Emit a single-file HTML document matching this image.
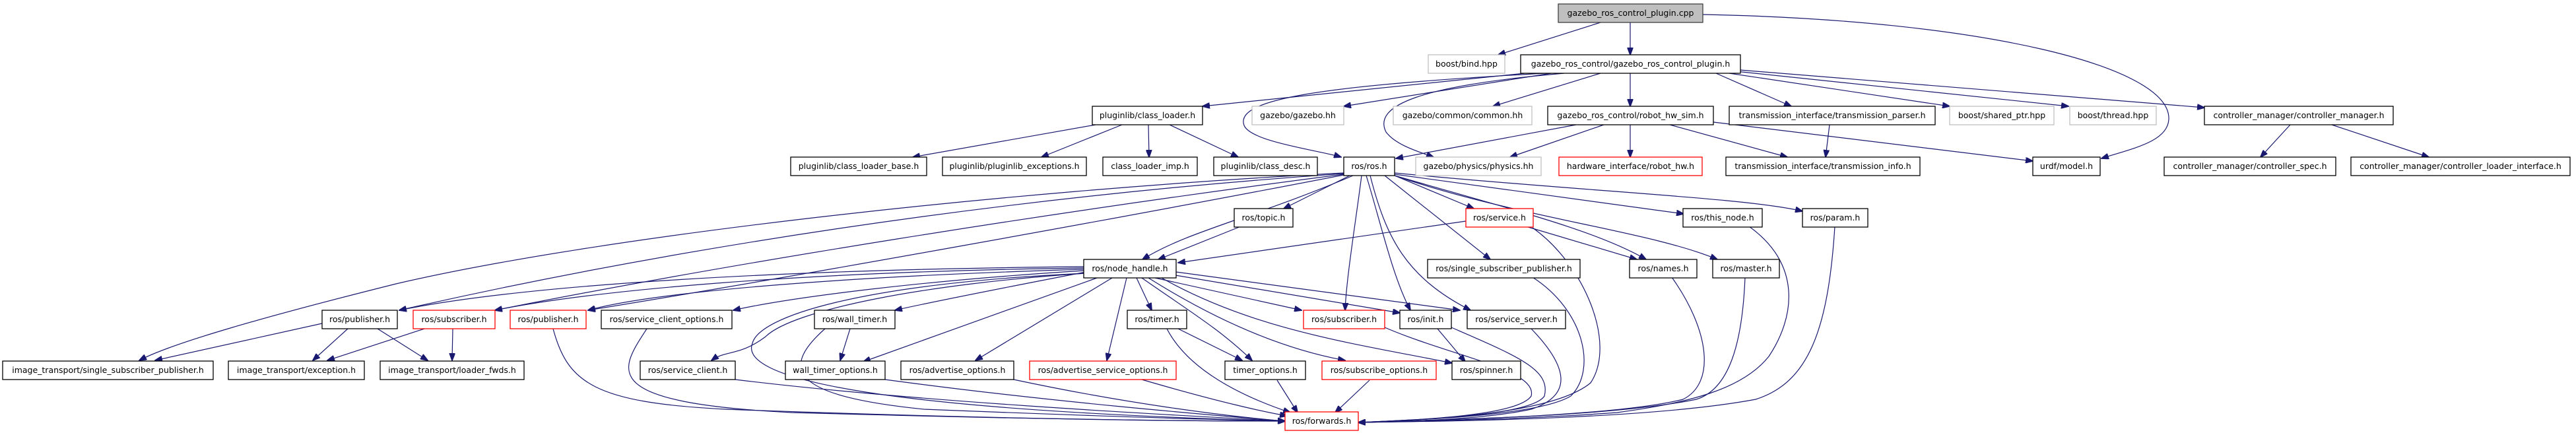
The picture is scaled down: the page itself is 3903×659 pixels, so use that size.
<!DOCTYPE html>
<html><head><meta charset="utf-8"><style>
html,body{margin:0;padding:0;background:#fff;}
svg{display:block;}
text{font-family:"DejaVu Sans","Liberation Sans",sans-serif;font-size:12.5px;fill:#000;text-anchor:middle;}
.e{fill:none;stroke:#191970;stroke-width:1.2;}
.n{fill:#fff;stroke:#000;stroke-width:1.3;}
.g{fill:#fff;stroke:#bfbfbf;stroke-width:1.3;}
.r{fill:#fff;stroke:#ff0000;stroke-width:1.3;}
</style></head><body>
<svg width="3903" height="659" viewBox="0 0 3903 659" xmlns="http://www.w3.org/2000/svg">
<defs><marker id="a" markerWidth="12" markerHeight="9" refX="11" refY="4.5" orient="auto" markerUnits="userSpaceOnUse"><path d="M0,0 L12,4.5 L0,9 z" fill="#191970" stroke="#191970"/></marker></defs>
<g class="e" marker-end="url(#a)">
<path d="M2425,34 L2270,83"/>
<path d="M2470,34 L2470,83"/>
<path d="M2580,22 C3000,30 3290,100 3286,181 C3284,215 3230,225 3184,240"/>
<path d="M2310,111 L1822,161"/>
<path d="M2350,111 L2036,161"/>
<path d="M2425,111 L2262,161"/>
<path d="M2470,111 L2470,161"/>
<path d="M2340,111 C2000,130 1870,150 1885,190 C1895,215 2000,228 2032,238"/>
<path d="M2370,111 C2150,130 2080,160 2100,200 C2115,220 2150,230 2172,238"/>
<path d="M2600,111 L2714,161"/>
<path d="M2620,111 L2954,161"/>
<path d="M2630,108 L3134,161"/>
<path d="M2636,106 L3340,163"/>
<path d="M1660,189 L1383,238"/>
<path d="M1700,189 L1578,238"/>
<path d="M1740,189 L1741,238"/>
<path d="M1772,189 L1876,238"/>
<path d="M2388,189 L2115,240"/>
<path d="M2430,189 L2288,238"/>
<path d="M2470,189 L2470,238"/>
<path d="M2530,189 L2708,238"/>
<path d="M2596,185 L3080,244"/>
<path d="M2772,189 L2766,238"/>
<path d="M3470,189 L3425,238"/>
<path d="M3533,189 L3680,238"/>
<path d="M2045,266 L1945,316"/>
<path d="M2050,266 C1900,330 1800,350 1731,393"/>
<path d="M2113,266 L2233,316"/>
<path d="M2113,264 L2551,324"/>
<path d="M2113,262 C2400,290 2650,300 2731,320"/>
<path d="M2098,266 L2258,393"/>
<path d="M2113,266 C2300,320 2420,350 2494,393"/>
<path d="M2113,266 C2300,330 2500,350 2602,393"/>
<path d="M2063,266 C2055,330 2040,420 2038,470"/>
<path d="M2070,266 C2090,330 2110,420 2137,470"/>
<path d="M2076,266 C2100,360 2130,420 2228,470"/>
<path d="M2036,265 C1700,330 1200,420 891,470"/>
<path d="M2036,264 C1600,320 1100,400 750,470"/>
<path d="M2036,263 C1500,300 1000,380 605,470"/>
<path d="M2036,262 C1500,290 900,360 600,430 C400,480 260,520 211,546"/>
<path d="M1880,343 L1755,393"/>
<path d="M2221,335 L1785,398"/>
<path d="M2312,343 L2480,393"/>
<path d="M1642,404 C1200,408 800,430 605,470"/>
<path d="M1642,406 C1200,412 900,440 750,470"/>
<path d="M1642,408 C1300,418 1000,440 891,470"/>
<path d="M1642,410 C1400,425 1200,450 1111,470"/>
<path d="M1645,412 C1500,440 1400,460 1356,470"/>
<path d="M1645,414 C1400,430 1200,470 1160,510 C1120,540 1100,530 1078,546"/>
<path d="M1662,421 L1308,548"/>
<path d="M1685,421 L1478,546"/>
<path d="M1707,421 L1677,546"/>
<path d="M1722,421 L1745,470"/>
<path d="M1730,421 C1800,470 1850,500 1897,546"/>
<path d="M1750,421 L1972,470"/>
<path d="M1775,416 L2121,474"/>
<path d="M1782,412 L2212,470"/>
<path d="M1740,421 C1850,490 1950,530 2038,546"/>
<path d="M1760,421 C1900,500 2050,520 2200,550"/>
<path d="M488,490 L235,546"/>
<path d="M527,498 L474,546"/>
<path d="M572,498 L648,546"/>
<path d="M643,498 L496,546"/>
<path d="M686,498 L685,546"/>
<path d="M1288,498 L1273,546"/>
<path d="M1785,498 L1882,546"/>
<path d="M2178,498 L2220,548"/>
<path d="M838,498 C860,580 900,610 1100,620 C1500,635 1800,638 1947,638"/>
<path d="M980,498 C940,560 900,610 1200,625 C1600,636 1800,638 1947,638"/>
<path d="M1645,414 C1300,430 1150,480 1140,520 C1120,570 1300,620 1947,638"/>
<path d="M1114,575 C1400,610 1800,630 1947,638"/>
<path d="M1250,498 C1180,560 1200,600 1400,620 C1700,632 1850,636 1947,638"/>
<path d="M1341,575 C1600,610 1850,630 1947,638"/>
<path d="M1536,575 C1700,610 1850,630 1947,638"/>
<path d="M1730,575 C1850,610 1920,625 1950,630"/>
<path d="M1768,498 C1800,560 1880,600 1955,625"/>
<path d="M1935,576 L1966,625"/>
<path d="M2075,576 L2023,625"/>
<path d="M2098,496 C2200,540 2330,560 2320,600 C2300,630 2150,636 2058,640"/>
<path d="M2199,496 C2300,540 2350,560 2340,600 C2320,630 2150,636 2058,640"/>
<path d="M2320,498 C2380,560 2380,600 2320,620 C2250,635 2150,638 2058,640"/>
<path d="M2322,345 C2400,400 2450,520 2410,580 C2350,630 2150,636 2058,640"/>
<path d="M2322,420 C2400,470 2420,560 2380,600 C2330,630 2150,636 2058,640"/>
<path d="M2533,420 C2590,500 2600,580 2550,605 C2450,630 2200,636 2058,640"/>
<path d="M2644,420 C2640,520 2620,590 2570,605 C2450,630 2200,636 2058,640"/>
<path d="M2650,343 C2730,400 2720,480 2680,540 C2640,590 2560,610 2450,625 C2300,636 2150,638 2058,640"/>
<path d="M2780,343 C2770,500 2740,580 2660,605 C2500,635 2200,638 2058,640"/>
</g>
<rect x="2361" y="6" width="219" height="28" fill="#bfbfbf" stroke="#404040" stroke-width="1.3"/><text x="2470.5" y="24">gazebo_ros_control_plugin.cpp</text>
<rect class="g" x="2164" y="83" width="116" height="28"/><text x="2222" y="101">boost/bind.hpp</text>
<rect class="n" x="2304" y="83" width="333" height="28"/><text x="2470.5" y="101">gazebo_ros_control/gazebo_ros_control_plugin.h</text>
<rect class="n" x="1655" y="161" width="167" height="28"/><text x="1738.5" y="179">pluginlib/class_loader.h</text>
<rect class="g" x="1897" y="161" width="139" height="28"/><text x="1966.5" y="179">gazebo/gazebo.hh</text>
<rect class="g" x="2111" y="161" width="210" height="28"/><text x="2216" y="179">gazebo/common/common.hh</text>
<rect class="n" x="2345" y="161" width="251" height="28"/><text x="2470.5" y="179">gazebo_ros_control/robot_hw_sim.h</text>
<rect class="n" x="2620" y="161" width="312" height="28"/><text x="2776" y="179">transmission_interface/transmission_parser.h</text>
<rect class="g" x="2954" y="161" width="158" height="28"/><text x="3033" y="179">boost/shared_ptr.hpp</text>
<rect class="g" x="3136" y="161" width="131" height="28"/><text x="3201.5" y="179">boost/thread.hpp</text>
<rect class="n" x="3340" y="161" width="286" height="28"/><text x="3483" y="179">controller_manager/controller_manager.h</text>
<rect class="n" x="1198" y="238" width="206" height="28"/><text x="1301" y="256">pluginlib/class_loader_base.h</text>
<rect class="n" x="1428" y="238" width="218" height="28"/><text x="1537" y="256">pluginlib/pluginlib_exceptions.h</text>
<rect class="n" x="1671" y="238" width="143" height="28"/><text x="1742.5" y="256">class_loader_imp.h</text>
<rect class="n" x="1839" y="238" width="157" height="28"/><text x="1917.5" y="256">pluginlib/class_desc.h</text>
<rect class="n" x="2036" y="238" width="77" height="28"/><text x="2074.5" y="256">ros/ros.h</text>
<rect class="g" x="2145" y="238" width="190" height="28"/><text x="2240" y="256">gazebo/physics/physics.hh</text>
<rect class="r" x="2362" y="238" width="217" height="28"/><text x="2470.5" y="256">hardware_interface/robot_hw.h</text>
<rect class="n" x="2615" y="238" width="294" height="28"/><text x="2762" y="256">transmission_interface/transmission_info.h</text>
<rect class="n" x="3080" y="238" width="102" height="28"/><text x="3131" y="256">urdf/model.h</text>
<rect class="n" x="3279" y="238" width="260" height="28"/><text x="3409" y="256">controller_manager/controller_spec.h</text>
<rect class="n" x="3562" y="238" width="332" height="28"/><text x="3728" y="256">controller_manager/controller_loader_interface.h</text>
<rect class="n" x="1870" y="316" width="89" height="28"/><text x="1914.5" y="334">ros/topic.h</text>
<rect class="r" x="2221" y="316" width="102" height="28"/><text x="2272" y="334">ros/service.h</text>
<rect class="n" x="2550" y="316" width="120" height="28"/><text x="2610" y="334">ros/this_node.h</text>
<rect class="n" x="2731" y="316" width="99" height="28"/><text x="2780.5" y="334">ros/param.h</text>
<rect class="n" x="1642" y="393" width="140" height="28"/><text x="1712" y="411">ros/node_handle.h</text>
<rect class="n" x="2163" y="393" width="231" height="28"/><text x="2278.5" y="411">ros/single_subscriber_publisher.h</text>
<rect class="n" x="2469" y="393" width="102" height="28"/><text x="2520" y="411">ros/names.h</text>
<rect class="n" x="2595" y="393" width="101" height="28"/><text x="2645.5" y="411">ros/master.h</text>
<rect class="n" x="488" y="470" width="114" height="28"/><text x="545" y="488">ros/publisher.h</text>
<rect class="r" x="626" y="470" width="124" height="28"/><text x="688" y="488">ros/subscriber.h</text>
<rect class="r" x="773" y="470" width="115" height="28"/><text x="830.5" y="488">ros/publisher.h</text>
<rect class="n" x="911" y="470" width="198" height="28"/><text x="1010" y="488">ros/service_client_options.h</text>
<rect class="n" x="1234" y="470" width="122" height="28"/><text x="1295" y="488">ros/wall_timer.h</text>
<rect class="n" x="1708" y="470" width="90" height="28"/><text x="1753" y="488">ros/timer.h</text>
<rect class="r" x="1975" y="470" width="123" height="28"/><text x="2036.5" y="488">ros/subscriber.h</text>
<rect class="n" x="2121" y="470" width="78" height="28"/><text x="2160" y="488">ros/init.h</text>
<rect class="n" x="2223" y="470" width="149" height="28"/><text x="2297.5" y="488">ros/service_server.h</text>
<rect class="n" x="4" y="547" width="319" height="28"/><text x="163.5" y="565">image_transport/single_subscriber_publisher.h</text>
<rect class="n" x="346" y="547" width="206" height="28"/><text x="449" y="565">image_transport/exception.h</text>
<rect class="n" x="576" y="547" width="218" height="28"/><text x="685" y="565">image_transport/loader_fwds.h</text>
<rect class="n" x="970" y="547" width="144" height="28"/><text x="1042" y="565">ros/service_client.h</text>
<rect class="n" x="1190" y="547" width="151" height="28"/><text x="1265.5" y="565">wall_timer_options.h</text>
<rect class="n" x="1365" y="547" width="171" height="28"/><text x="1450.5" y="565">ros/advertise_options.h</text>
<rect class="r" x="1560" y="547" width="222" height="28"/><text x="1671" y="565">ros/advertise_service_options.h</text>
<rect class="n" x="1856" y="547" width="122" height="28"/><text x="1917" y="565">timer_options.h</text>
<rect class="r" x="2003" y="547" width="173" height="28"/><text x="2089.5" y="565">ros/subscribe_options.h</text>
<rect class="n" x="2200" y="547" width="104" height="28"/><text x="2252" y="565">ros/spinner.h</text>
<rect class="r" x="1947" y="624" width="111" height="28"/><text x="2002.5" y="642">ros/forwards.h</text>
</svg>
</body></html>
